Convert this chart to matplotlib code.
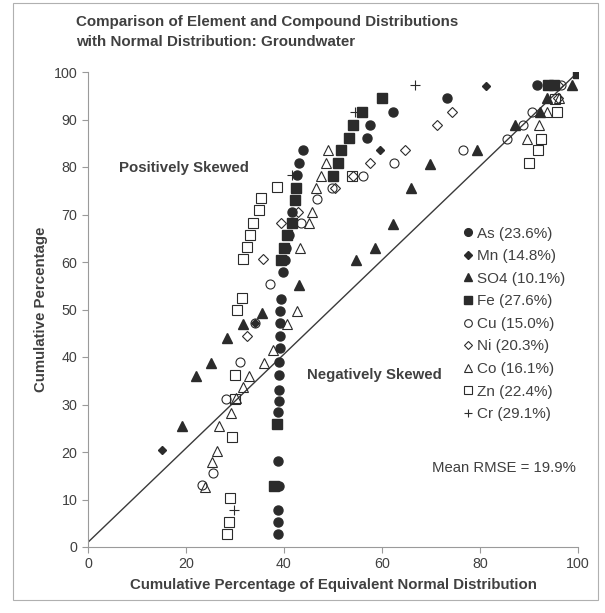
import matplotlib
matplotlib.use("Agg")
import matplotlib.pyplot as plt
from matplotlib.patches import Rectangle

plt.rcParams['font.family'] = ['Liberation Sans', 'DejaVu Sans']
plt.rcParams['font.size'] = 10

grey = "#404040"
mk = "#2b2b2b"

# --- data (x = normal %, y = cumulative %) ---
as_x = [38.8, 38.8, 38.8, 39.0, 38.8, 38.8, 38.9, 38.9, 39.0, 39.0, 39.1, 39.1, 39.2, 39.2,
        39.3, 39.8, 40.2, 40.4, 41.0, 41.6, 42.7, 43.0, 43.9, 56.9, 57.6, 62.2, 73.3, 91.6]
as_y = [2.7, 5.3, 7.8, 12.8, 18.1, 28.4, 30.7, 33.1, 36.2, 38.9, 41.9, 44.4, 47.2, 49.7,
        52.2, 57.9, 60.4, 63.0, 65.7, 70.5, 78.3, 80.8, 83.6, 86.1, 88.8, 91.6, 94.5, 97.3]

mn_x = [15.0, 34.0, 59.6, 81.2]
mn_y = [20.4, 47.2, 83.6, 97.0]

so4_x = [19.2, 22.0, 25.1, 28.4, 31.6, 35.5, 43.0, 54.6, 58.6, 62.3, 66.0, 69.8, 79.3,
         87.1, 92.2, 93.6, 98.7]
so4_y = [25.5, 36.0, 38.7, 44.0, 46.9, 49.3, 55.2, 60.4, 63.0, 68.0, 75.6, 80.6, 83.6,
         88.8, 91.6, 94.5, 97.3]

fe_x = [38.0, 38.6, 39.4, 40.0, 40.6, 41.6, 42.3, 42.5, 50.0, 51.0, 51.6, 53.3, 54.1,
        55.9, 60.0, 93.8, 95.2, 100.0]
fe_y = [12.8, 25.9, 60.4, 63.0, 65.7, 68.2, 73.0, 75.6, 78.1, 80.8, 83.6, 86.1, 88.8,
        91.6, 94.5, 97.3, 97.3, 99.8]

cu_x = [23.2, 25.6, 28.2, 31.0, 34.1, 37.2, 43.4, 46.7, 49.7, 56.2, 62.5, 76.5, 85.6,
        88.7, 90.6, 96.5]
cu_y = [13.0, 15.6, 31.2, 39.0, 47.2, 55.3, 68.2, 73.3, 75.6, 78.1, 80.8, 83.6, 86.0,
        88.8, 91.6, 97.3]

ni_x = [32.5, 35.7, 39.4, 42.9, 50.4, 54.0, 57.6, 64.7, 71.2, 74.3, 95.9, 96.0]
ni_y = [44.4, 60.6, 68.2, 70.5, 75.6, 78.1, 80.8, 83.6, 88.8, 91.6, 97.3, 94.5]

co_x = [23.8, 25.3, 26.3, 26.7, 29.2, 30.3, 31.6, 32.8, 35.9, 37.7, 40.7, 42.6, 43.2,
        45.2, 45.8, 46.6, 47.6, 48.5, 49.0, 89.5, 92.0, 93.6, 96.2]
co_y = [12.6, 17.9, 20.2, 25.5, 28.2, 31.4, 33.7, 36.0, 38.7, 41.5, 47.0, 49.7, 63.0,
        68.2, 70.5, 75.6, 78.1, 80.8, 83.6, 86.0, 88.8, 91.6, 94.5]

zn_x = [28.4, 28.8, 29.0, 29.4, 30.1, 30.0, 30.4, 31.4, 31.6, 32.4, 33.0, 33.7, 34.9,
        35.3, 38.6, 53.8, 90.0, 91.8, 92.4, 95.7, 95.3]
zn_y = [2.7, 5.3, 10.3, 23.2, 31.2, 36.2, 49.9, 52.4, 60.6, 63.2, 65.7, 68.2, 71.0,
        73.5, 75.8, 78.1, 80.8, 83.6, 86.0, 91.6, 94.3]

cr_x = [29.8, 41.6, 54.5, 66.7]
cr_y = [7.8, 78.3, 91.6, 97.3]

line_x = [0, 100]
line_y = [1, 100]

series = [
    ("As (23.6%)", as_x, as_y, dict(marker="o", ms=6.5, mfc=mk, mec=mk)),
    ("Mn (14.8%)", mn_x, mn_y, dict(marker="D", ms=4.5, mfc=mk, mec=mk)),
    ("SO4 (10.1%)", so4_x, so4_y, dict(marker="^", ms=6.5, mfc=mk, mec=mk)),
    ("Fe (27.6%)", fe_x, fe_y, dict(marker="s", ms=6.5, mfc=mk, mec=mk)),
    ("Cu (15.0%)", cu_x, cu_y, dict(marker="o", ms=6.5, mfc="none", mec=mk, mew=0.8)),
    ("Ni (20.3%)", ni_x, ni_y, dict(marker="D", ms=5, mfc="none", mec=mk, mew=0.8)),
    ("Co (16.1%)", co_x, co_y, dict(marker="^", ms=7, mfc="none", mec=mk, mew=0.8)),
    ("Zn (22.4%)", zn_x, zn_y, dict(marker="s", ms=7, mfc="none", mec=mk, mew=0.8)),
    ("Cr (29.1%)", cr_x, cr_y, dict(marker="+", ms=7, mfc=mk, mec=mk, mew=0.8)),
]

fig = plt.figure(figsize=(6.05, 6.13), dpi=100)
fig.patches.append(Rectangle((13 / 605, 1 - 600 / 613), 585 / 605, 597 / 613,
                             transform=fig.transFigure, fill=False, ec="#b0b0b0", lw=0.8))
ax = fig.add_axes([88 / 605, 1 - 547 / 613, 490 / 605, 475 / 613])

ax.plot(line_x, line_y, color="#3a3a3a", lw=1.0, zorder=1)
for label, xs, ys, st in series:
    ax.plot(xs, ys, ls="none", label=label, zorder=3, **st)

ax.set_xlim(0, 100)
ax.set_ylim(0, 100)
ax.set_xticks(range(0, 101, 20))
ax.set_yticks(range(0, 101, 10))
for s in ["top", "right"]:
    ax.spines[s].set_visible(False)
for s in ["left", "bottom"]:
    ax.spines[s].set_color("#9a9a9a")
    ax.spines[s].set_linewidth(0.8)
ax.tick_params(colors="#9a9a9a", labelcolor=grey, labelsize=10.3, length=4, width=0.8)

ax.set_xlabel("Cumulative Percentage of Equivalent Normal Distribution",
              fontsize=10.8, fontweight="bold", color=grey, labelpad=5)
ax.set_ylabel("Cumulative Percentage", fontsize=10.8, fontweight="bold", color=grey, labelpad=4)

ax.text(6.3, 79.8, "Positively Skewed", fontsize=10.8, fontweight="bold", color=grey, va="center")
ax.text(44.7, 36.2, "Negatively Skewed", fontsize=10.8, fontweight="bold", color=grey, va="center")

fig.text(76 / 605, 1 - 32 / 613,
         "Comparison of Element and Compound Distributions\nwith Normal Distribution: Groundwater",
         fontsize=10.9, fontweight="bold", color=grey, va="center", linespacing=1.6)

leg = ax.legend(loc="upper left", bbox_to_anchor=(456 / 605, 1 - 219 / 613),
                bbox_transform=fig.transFigure, frameon=False, fontsize=11,
                handlelength=0.6, handletextpad=0.25, labelspacing=0.56, borderpad=0,
                markerscale=0.85)
for t in leg.get_texts():
    t.set_color(grey)

ax.text(432 / 605, 1 - 468 / 613, "Mean RMSE = 19.9%", transform=fig.transFigure,
        fontsize=10.7, color=grey, va="center")

fig.savefig("out.png", dpi=100)
